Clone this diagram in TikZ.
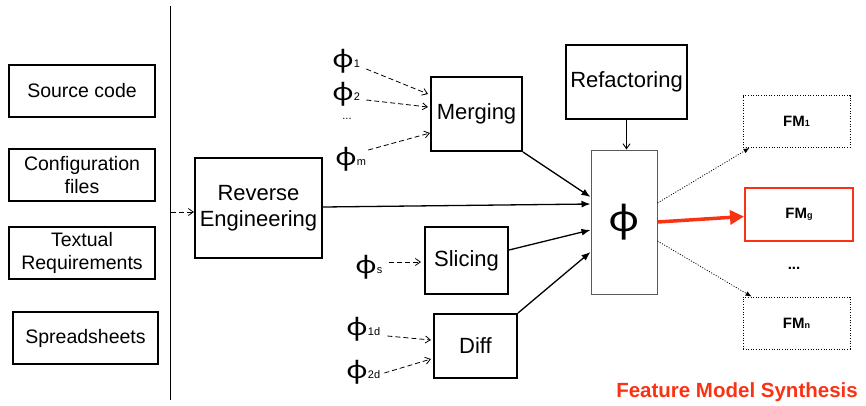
\documentclass[tikz,border=0pt]{standalone}
\usepackage{fontspec}
\setmainfont{Liberation Sans}
\newfontfamily\phifont{Noto Sans}
\usetikzlibrary{arrows.meta,calc}
\definecolor{fmred}{RGB}{250,50,20}
\definecolor{boxgray}{RGB}{90,90,90}
\newcommand\widephi{\scalebox{1.25}[1]{\phifont ϕ}}
\newcommand\phisub[1]{\widephi{\fontsize{11}{11}\selectfont #1}}
\newcommand\fmsub[1]{FM{\fontsize{9}{9}\selectfont #1}}
\begin{document}
\begin{tikzpicture}[x=1pt,y=-1pt,
  srcbox/.style={draw,line width=1.4pt,minimum width=146pt,minimum height=52pt,inner sep=0pt,align=center,font={\fontsize{19.5}{23.5}\selectfont}},
  opbox/.style={draw,line width=2pt,inner sep=0pt,align=center,font={\fontsize{22}{26}\selectfont}},
  fmbox/.style={draw,line width=0.9pt,dash pattern=on 1pt off 1.6pt,minimum width=107pt,minimum height=52pt,inner sep=0pt,font={\fontsize{15}{15}\selectfont\bfseries}},
  philab/.style={anchor=base west,inner sep=0pt,font={\fontsize{24}{24}\selectfont}},
  dasharrow/.style={line width=0.8pt,dash pattern=on 5pt off 3pt,-{Straight Barb[length=5pt,width=7pt]}},
  solidarrow/.style={line width=1.3pt,-{Latex[length=9pt,width=7pt]}},
  dotarrow/.style={line width=0.8pt,dash pattern=on 1pt off 1.6pt,-{Latex[length=6pt,width=5pt]}},
  redarrow/.style={fmred,line width=3.5pt,-{Triangle[length=14pt,width=14pt]}}
]
\useasboundingbox (0,0) rectangle (866,405);

% input sources
\node[srcbox] (src) at (82,91) {Source code};
\node[srcbox] (cfg) at (82,175) {Configuration\\files};
\node[srcbox] (txt) at (82,253) {Textual\\Requirements};
\node[srcbox,minimum width=145pt] (spr) at (85.5,338) {Spreadsheets};

% separator line
\coordinate (septop) at (170,6);
\coordinate (sepbot) at (170,400);
\draw[line width=1pt] (septop) -- (sepbot);
\coordinate (in0) at (171,212);

% operators
\node[opbox,minimum width=127pt,minimum height=100pt] (re) at (258.5,208) {Reverse\\Engineering};
\node[opbox,minimum width=91pt,minimum height=74pt] (merge) at (476.5,114) {Merging};
\node[opbox,minimum width=83pt,minimum height=67pt] (slice) at (466.5,260.5) {Slicing};
\node[opbox,minimum width=83pt,minimum height=64pt] (diff) at (475.5,346) {Diff};
\node[opbox,minimum width=121pt,minimum height=74pt] (refac) at (626.5,82) {Refactoring};
\node[draw=boxgray,line width=1pt,minimum width=66pt,minimum height=144pt,inner sep=0pt,font={\fontsize{36}{36}\selectfont}] (phi) at (624,222) {\scalebox{1.2}[1]{\phifont ϕ}};

% phi labels
\node[philab] (p1) at (332,67) {\phisub{1}};
\node[philab] (p2) at (332,100) {\phisub{2}};
\node[inner sep=0pt,font={\fontsize{11}{11}\selectfont}] (pdots) at (347,119) {...};
\node[philab] (pm) at (335,165) {\phisub{m}};
\node[philab] (ps) at (355,273) {\phisub{s}};
\node[philab] (p1d) at (346,335) {\phisub{1d}};
\node[philab] (p2d) at (346,378) {\phisub{2d}};

% feature models
\node[fmbox] (fm1) at (796.5,121.5) {\fmsub{1}};
\node[fmbox,draw=fmred,solid,line width=2pt,minimum width=108pt,minimum height=53pt] (fmg) at (799,214.5) {\fmsub{g}};
\node[inner sep=0pt,font={\fontsize{15}{15}\selectfont\bfseries}] (fmdots) at (794,268) {...};
\node[fmbox] (fmn) at (796.5,323) {\fmsub{n}};
\node[text=fmred,inner sep=0pt,font={\fontsize{20.5}{20.5}\selectfont\bfseries}] (title) at (737,392) {Feature Model Synthesis};

% connectors
\draw[dasharrow] (in0) -- (in0 -| re.west);
\draw[dasharrow] ($(p1.base east)+(6,2)$) -- ($(merge.west)+(-2,-20)$);
\draw[dasharrow] ($(p2.base east)+(6,0)$) -- ($(merge.west)+(-2,-7)$);
\draw[dasharrow] ($(pm.base east)+(2,-15)$) -- ($(merge.west)+(0,19)$);
\draw[dasharrow] ($(ps.base east)+(6,-11)$) -- ($(slice.west)+(-3,1.5)$);
\draw[dasharrow] ($(p1d.base east)+(7,1)$) -- ($(diff.west)+(-2,-6)$);
\draw[dasharrow] ($(p2d.base east)+(4,-5)$) -- ($(diff.west)+(-2,13)$);

\draw[solidarrow] (merge.south east) -- ($(phi.west)+(0,-25)$);
\draw[solidarrow] ($(re.east)+(0,-1)$) -- ($(phi.west)+(0,-18)$);
\draw[solidarrow] ($(slice.east)+(0,-10.5)$) -- ($(phi.west)+(0,8)$);
\draw[solidarrow] (diff.north east) -- ($(phi.west)+(0,30)$);
\draw[line width=0.9pt,-{Straight Barb[length=5pt,width=7pt]}] (refac.south) -- (refac.south |- phi.north);

\draw[redarrow] (phi.east) -- ($(fmg.west)+(0,2)$);
\draw[dotarrow] ($(phi.east)+(0,-19)$) -- ($(fm1.south west)+(7,0)$);
\draw[dotarrow] ($(phi.east)+(0,19)$) -- ($(fmn.north west)+(9,0)$);
\end{tikzpicture}
\end{document}
